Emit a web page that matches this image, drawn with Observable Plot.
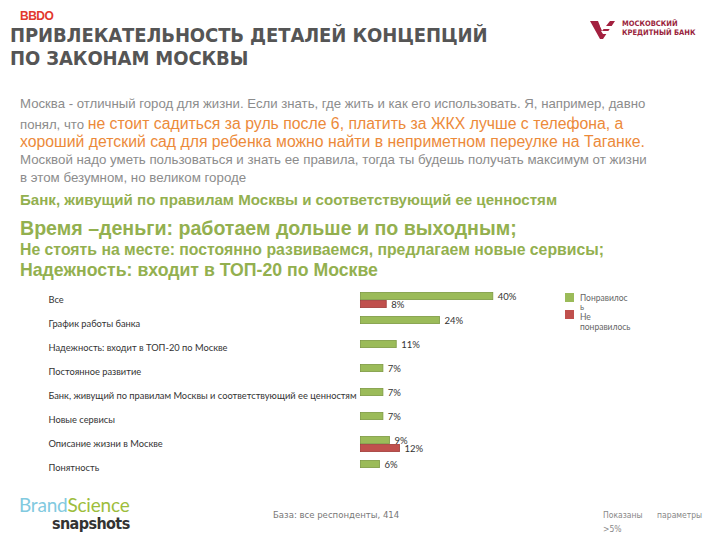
<!DOCTYPE html>
<html><head><meta charset="utf-8">
<script src="https://cdn.jsdelivr.net/npm/d3@7"></script>
<script src="https://cdn.jsdelivr.net/npm/@observablehq/plot@0.6"></script>
<style>
body{margin:0;background:#fff;}
#page{position:relative;width:720px;height:540px;overflow:hidden;font-family:"Liberation Sans",Arial,sans-serif;}
.abs{position:absolute;white-space:nowrap;}
.ln{height:18px;line-height:18px;}
.g{color:#8c8c8c;font-size:13.2px;}
.o{color:#ec8a3a;font-size:15.8px;}
.gr{color:#93b04f;font-weight:bold;}
#chart{position:absolute;left:0;top:280px;}
.leg{font-family:"Lato",sans-serif;font-size:8.5px;color:#666;}
</style></head>
<body><div id="page">
  <div class="abs" style="left:20px;top:9px;font:bold 12px 'Liberation Sans',Arial;color:#e2382d;letter-spacing:-0.5px;line-height:14px;">BBDO</div>
  <div class="abs" style="left:10px;top:24px;font:bold 20px 'DejaVu Sans Condensed',sans-serif;color:#555;line-height:23px;letter-spacing:-0.1px;">ПРИВЛЕКАТЕЛЬНОСТЬ ДЕТАЛЕЙ КОНЦЕПЦИЙ<br>ПО ЗАКОНАМ МОСКВЫ</div>
  <svg class="abs" style="left:588px;top:17px;" width="28" height="26" viewBox="0 0 28 26">
    <path d="M2 4 L10 4 L14 14 L22 4 L27 4 L15 22 L12 22 Z" fill="#a3203f"/>
    <path d="M12 9 L26 9 L24 12 L14 12 Z M13 14 L23 14 L21 17 L15 17 Z" fill="#fff"/>
  </svg>
  <div class="abs" style="left:622px;top:19px;font:bold 7.5px 'DejaVu Sans Condensed',sans-serif;color:#9a1f3d;line-height:9px;">МОСКОВСКИЙ<br>КРЕДИТНЫЙ БАНК</div>

  <div class="abs ln g" style="left:20px;top:95px;">Москва - отличный город для жизни. Если знать, где жить и как его использовать. Я, например, давно</div>
  <div class="abs ln" style="left:20px;top:115px;"><span class="g">понял, что </span><span class="o">не стоит садиться за руль после 6, платить за ЖКХ лучше с телефона, а</span></div>
  <div class="abs ln o" style="left:20px;top:133px;">хороший детский сад для ребенка можно найти в неприметном переулке на Таганке.</div>
  <div class="abs ln g" style="left:20px;top:151px;font-size:13.3px;">Москвой надо уметь пользоваться и знать ее правила, тогда ты будешь получать максимум от жизни</div>
  <div class="abs ln g" style="left:20px;top:169px;font-size:13.3px;">в этом безумном, но великом городе</div>

  <div class="abs ln gr" style="left:20px;top:191px;font-size:15.1px;">Банк, живущий по правилам Москвы и соответствующий ее ценностям</div>
  <div class="abs ln gr" style="left:20px;top:219px;font-size:19.6px;">Время –деньги: работаем дольше и по выходным;</div>
  <div class="abs ln gr" style="left:20px;top:241px;font-size:15.8px;">Не стоять на месте: постоянно развиваемся, предлагаем новые сервисы;</div>
  <div class="abs ln gr" style="left:20px;top:261px;font-size:17.7px;">Надежность: входит в ТОП-20 по Москве</div>

  <div id="chart"></div>

  <div class="abs" style="left:565px;top:293px;width:9px;height:9px;background:#9bbb59;"></div>
  <div class="abs leg" style="left:580px;top:294px;line-height:9px;">Понравилос<br>ь</div>
  <div class="abs" style="left:565px;top:310px;width:9px;height:9px;background:#c0504d;"></div>
  <div class="abs leg" style="left:580px;top:312px;line-height:10px;">Не<br>понравилось</div>

  <div class="abs" style="left:19px;top:494px;font:19px 'Lato',sans-serif;letter-spacing:-0.2px;line-height:22px;"><span style="color:#82cadf;">Brand</span><span style="color:#9dbd3b;">Science</span></div>
  <div class="abs" style="left:52px;top:515px;font:bold 16px 'DejaVu Sans Condensed',sans-serif;color:#333;letter-spacing:-0.6px;line-height:18px;">snapshots</div>
  <div class="abs" style="left:273px;top:509px;font:9.5px 'DejaVu Sans Condensed',sans-serif;color:#777;">База: все респонденты, 414</div>
  <div class="abs" style="left:603px;top:508px;font:8.5px 'DejaVu Sans Condensed',sans-serif;color:#888;line-height:14px;">Показаны&nbsp;&nbsp;&nbsp;&nbsp;&nbsp;&nbsp;параметры<br>&gt;5%</div>
</div>
<script>
const categories = [
  "Все",
  "График работы банка",
  "Надежность: входит в ТОП-20 по Москве",
  "Постоянное развитие",
  "Банк, живущий по правилам Москвы и соответствующий ее ценностям",
  "Новые сервисы",
  "Описание жизни в Москве",
  "Понятность"
];
const series = ["Понравилось", "Не понравилось"];
const liked    = [40, 24, 11, 7, 7, 7, 9, 6];
const disliked = [8, null, null, null, null, null, 12, null];
const colors = ["#9bbb59", "#c0504d"];
const strokes = ["#7d9a43", "#a03c3a"];

const rows = [];
categories.forEach((c, i) => {
  if (liked[i] != null) rows.push({cat: c, series: series[0], value: liked[i]});
  if (disliked[i] != null) rows.push({cat: c, series: series[1], value: disliked[i]});
});

const chart = Plot.plot({
  width: 720,
  height: 202,
  marginLeft: 360,
  marginRight: 27,
  marginTop: 11,
  marginBottom: 5,
  style: {fontFamily: "Lato, sans-serif", background: "transparent"},
  x: {domain: [0, 100], axis: null},
  y: {domain: series, axis: null, padding: 0},
  fy: {domain: categories, padding: 0.33, label: null},
  color: {domain: series, range: colors},
  marks: [
    Plot.axisFy({anchor: "left", tickSize: 0, tickPadding: 0, textAnchor: "start", dx: -312, fontSize: 9.3, fill: "#333", label: null}),
    Plot.barX(rows, {x: "value", y: "series", fy: "cat", fill: "series", stroke: d => strokes[series.indexOf(d.series)], strokeWidth: 0.8, inset: 0.4}),
    Plot.text(rows, {x: "value", y: "series", fy: "cat", text: d => d.value + "%", textAnchor: "start", dx: 4, fontSize: 9.5, fill: "#333"})
  ]
});
document.getElementById("chart").appendChild(chart);
</script>
</body></html>
